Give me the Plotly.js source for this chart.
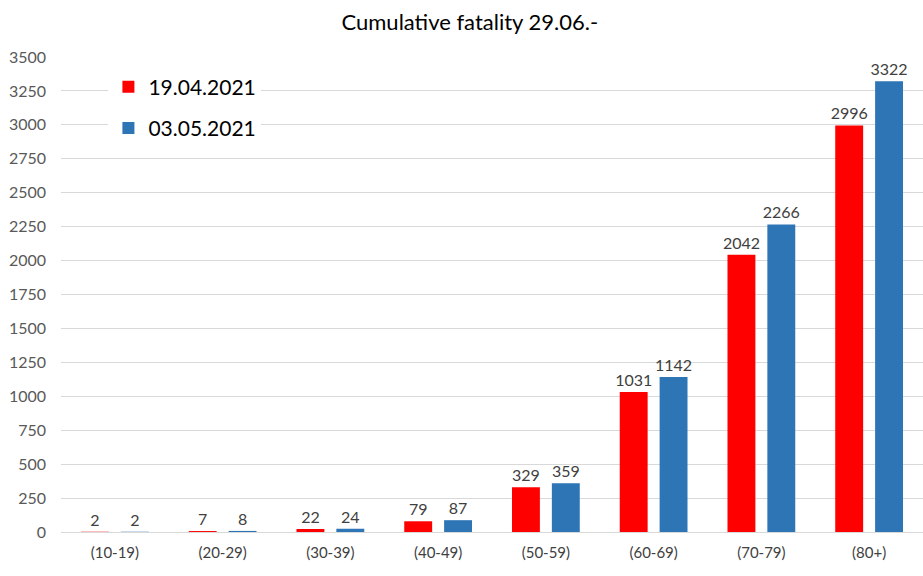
<!DOCTYPE html>
<html>
<head>
<meta charset="utf-8">
<script src="https://cdn.plot.ly/plotly-3.0.1.min.js"></script>
<style>
  html, body { margin: 0; padding: 0; background: #fff; }
  #graph { width: 923px; height: 576px; }
</style>
</head>
<body>
<div id="graph"></div>
<script>
let ageGroups = ["(10-19)", "(20-29)", "(30-39)", "(40-49)", "(50-59)", "(60-69)", "(70-79)", "(80+)"];
let deaths1904 = [2, 7, 22, 79, 329, 1031, 2042, 2996];
let deaths0305 = [2, 8, 24, 87, 359, 1142, 2266, 3322];
let yTicks = [0, 250, 500, 750, 1000, 1250, 1500, 1750, 2000, 2250, 2500, 2750, 3000, 3250, 3500];

function plot() {
    let labelFont = { family: "Lato, 'Liberation Sans', sans-serif", size: 16, color: "#404040" };

    let first = {
        x: ageGroups,
        y: deaths1904,
        name: "19.04.2021",
        legendgroup: "a",
        type: "bar",
        text: deaths1904.map(String),
        textposition: "outside",
        constraintext: "none",
        textfont: labelFont,
        cliponaxis: false,
        marker: { color: "#FF0000" }
    };

    let second = {
        x: ageGroups,
        y: deaths0305,
        name: "03.05.2021",
        legendgroup: "b",
        type: "bar",
        text: deaths0305.map(String),
        textposition: "outside",
        constraintext: "none",
        textfont: labelFont,
        cliponaxis: false,
        marker: { color: "#2E75B6" }
    };

    let layout = {
        width: 923,
        height: 576,
        margin: { l: 61, r: 0, t: 57, b: 44 },
        paper_bgcolor: "#fff",
        plot_bgcolor: "#fff",
        font: { family: "Lato, 'Liberation Sans', sans-serif", color: "#595959" },
        title: {
            text: "Cumulative fatality 29.06.-",
            font: { size: 22, color: "#000" },
            x: 0.509,
            xanchor: "center",
            y: 0.962,
            yanchor: "middle"
        },
        barmode: "group",
        bargap: 0.26,
        bargroupgap: 0.3,
        showlegend: true,
        legend: {
            x: 0.055,
            y: 0.98,
            xanchor: "left",
            yanchor: "top",
            bgcolor: "#fff",
            font: { size: 21, color: "#000" },
            tracegroupgap: 11,
            itemwidth: 30
        },
        xaxis: {
            type: "category",
            showgrid: false,
            showline: false,
            ticks: "",
            ticklabelstandoff: 10,
            tickfont: { size: 15, color: "#404040" }
        },
        yaxis: {
            range: [0, 3500],
            tickvals: yTicks,
            ticktext: yTicks.map(String),
            showgrid: true,
            gridcolor: "#d9d9d9",
            gridwidth: 1,
            zeroline: true,
            zerolinecolor: "#d9d9d9",
            showline: false,
            ticks: "",
            ticklabelstandoff: 14,
            tickfont: { size: 16, color: "#595959" }
        }
    };

    Plotly.newPlot("graph", [first, second], layout, { displayModeBar: false, staticPlot: true });
}

plot();
</script>
</body>
</html>
